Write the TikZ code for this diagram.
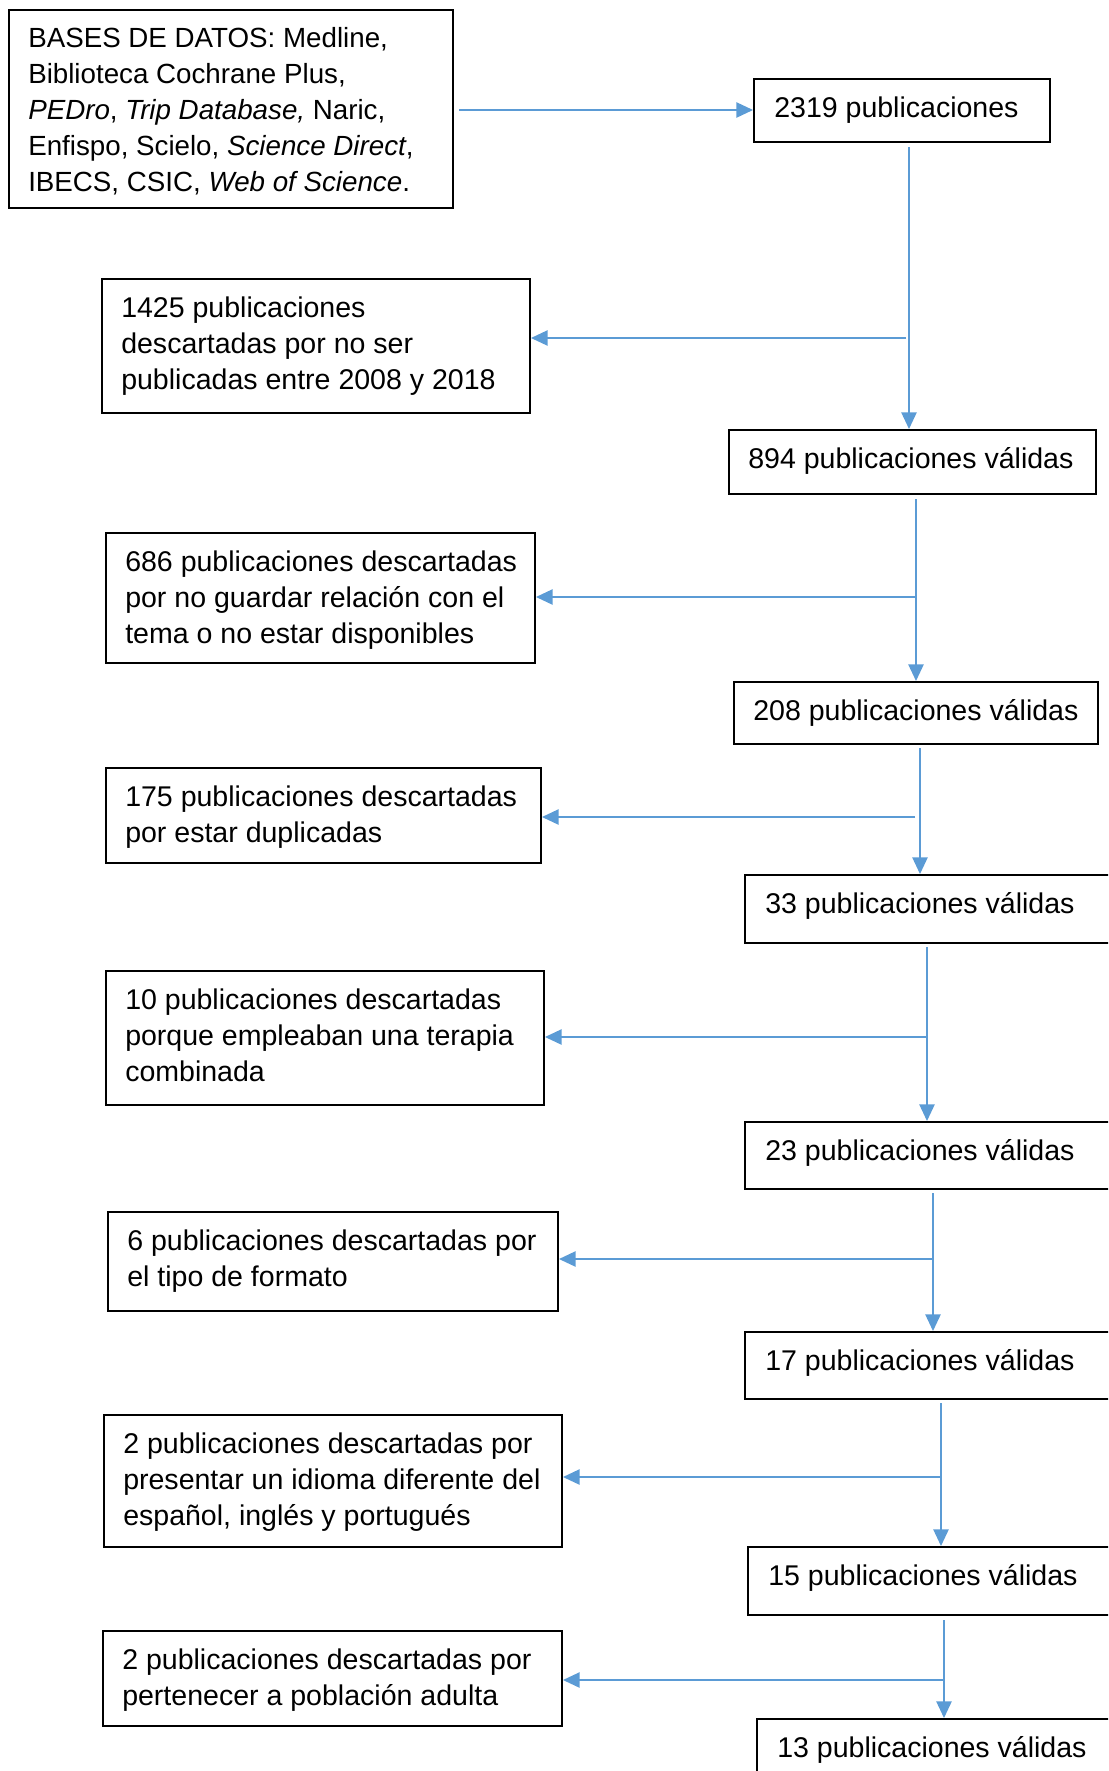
\documentclass[tikz,border=0pt]{standalone}
\usepackage{fontspec}
\setmainfont{Liberation Sans}
\usetikzlibrary{arrows.meta,fit}
\definecolor{lineblue}{HTML}{5B9BD5}
\begin{document}
\begin{tikzpicture}[x=0.75pt,y=-0.75pt,
  box/.style={draw=black,line width=1.5pt,inner sep=0pt},
  txt/.style={anchor=north west,inner sep=0pt,align=left,
    font=\fontsize{21.4pt}{27pt}\selectfont},
  arr/.style={draw=lineblue,line width=1.1pt,-{Triangle[length=12.5pt,width=11.5pt]}}]
\useasboundingbox (0,0) rectangle (1108,1771);
\clip (0,0) rectangle (1108,1771);
\newcommand{\fs}{\rule{0pt}{19.5pt}}
% boxes
\node[box,fit={(9,10) (453,208)}] (A) {};
\node[box,fit={(754,79) (1050,142)}] (P2319) {};
\node[box,fit={(102,279) (530,413)}] (L1425) {};
\node[box,fit={(729,430) (1096,494)}] (V894) {};
\node[box,fit={(106,533) (535,663)}] (L686) {};
\node[box,fit={(734,682) (1098,744)}] (V208) {};
\node[box,fit={(106,768) (541,863)}] (L175) {};
\node[box,fit={(745,875) (1130,943)}] (V33) {};
\node[box,fit={(106,971) (544,1105)}] (L10) {};
\node[box,fit={(745,1122) (1130,1189)}] (V23) {};
\node[box,fit={(108,1212) (558,1311)}] (L6) {};
\node[box,fit={(745,1332) (1130,1399)}] (V17) {};
\node[box,fit={(104,1415) (562,1547)}] (L2a) {};
\node[box,fit={(748,1547) (1130,1615)}] (V15) {};
\node[box,fit={(103,1631) (562,1726)}] (L2b) {};
\node[box,fit={(757,1719) (1130,1800)}] (V13) {};
% texts
\node[txt,font=\fontsize{20.8pt}{27pt}\selectfont] (tA) at ([shift={(20,12)}]A.north west)
 {\fs BASES DE DATOS: Medline,\\Biblioteca Cochrane Plus,\\\textit{PEDro}, \textit{Trip Database,} Naric,\\Enfispo, Scielo, \textit{Science Direct},\\IBECS, CSIC, \textit{Web of Science}.};
\node[txt] (t2319) at ([shift={(21,13)}]P2319.north west) {\fs 2319 publicaciones};
\node[txt] (t1425) at ([shift={(20,13)}]L1425.north west) {\fs 1425 publicaciones\\descartadas por no ser\\publicadas entre 2008 y 2018};
\node[txt] (t894) at ([shift={(20,13)}]V894.north west) {\fs 894 publicaciones válidas};
\node[txt] (t686) at ([shift={(20,13)}]L686.north west) {\fs 686 publicaciones descartadas\\por no guardar relación con el\\tema o no estar disponibles};
\node[txt] (t208) at ([shift={(20,13)}]V208.north west) {\fs 208 publicaciones válidas};
\node[txt] (t175) at ([shift={(20,13)}]L175.north west) {\fs 175 publicaciones descartadas\\por estar duplicadas};
\node[txt] (t33) at ([shift={(21,13)}]V33.north west) {\fs 33 publicaciones válidas};
\node[txt] (t10) at ([shift={(20,13)}]L10.north west) {\fs 10 publicaciones descartadas\\porque empleaban una terapia\\combinada};
\node[txt] (t23) at ([shift={(21,13)}]V23.north west) {\fs 23 publicaciones válidas};
\node[txt] (t6) at ([shift={(20,13)}]L6.north west) {\fs 6 publicaciones descartadas por\\el tipo de formato};
\node[txt] (t17) at ([shift={(21,13)}]V17.north west) {\fs 17 publicaciones válidas};
\node[txt] (t2a) at ([shift={(20,13)}]L2a.north west) {\fs 2 publicaciones descartadas por\\presentar un idioma diferente del\\español, inglés y portugués};
\node[txt] (t15) at ([shift={(21,13)}]V15.north west) {\fs 15 publicaciones válidas};
\node[txt] (t2b) at ([shift={(20,13)}]L2b.north west) {\fs 2 publicaciones descartadas por\\pertenecer a población adulta};
\node[txt] (t13) at ([shift={(21,13)}]V13.north west) {\fs 13 publicaciones válidas};
% connector coordinates
\coordinate (a0) at (459,110);
\coordinate (s1) at (909,147); \coordinate (h1) at (906,338);
\coordinate (s2) at (916,499); \coordinate (h2) at (916,597);
\coordinate (s3) at (920,748); \coordinate (h3) at (915,817);
\coordinate (s4) at (927,947); \coordinate (h4) at (926,1037);
\coordinate (s5) at (933,1193); \coordinate (h5) at (933,1259);
\coordinate (s6) at (941,1403); \coordinate (h6) at (940,1477);
\coordinate (s7) at (944,1620); \coordinate (h7) at (944,1680);
% connectors
\draw[arr] (a0) -- (a0 -| P2319.west);
\draw[arr] (s1) -- (s1 |- V894.north);
\draw[arr] (h1) -- (h1 -| L1425.east);
\draw[arr] (s2) -- (s2 |- V208.north);
\draw[arr] (h2) -- (h2 -| L686.east);
\draw[arr] (s3) -- (s3 |- V33.north);
\draw[arr] (h3) -- (h3 -| L175.east);
\draw[arr] (s4) -- (s4 |- V23.north);
\draw[arr] (h4) -- (h4 -| L10.east);
\draw[arr] (s5) -- (s5 |- V17.north);
\draw[arr] (h5) -- (h5 -| L6.east);
\draw[arr] (s6) -- (s6 |- V15.north);
\draw[arr] (h6) -- (h6 -| L2a.east);
\draw[arr] (s7) -- (s7 |- V13.north);
\draw[arr] (h7) -- (h7 -| L2b.east);
\end{tikzpicture}
\end{document}
